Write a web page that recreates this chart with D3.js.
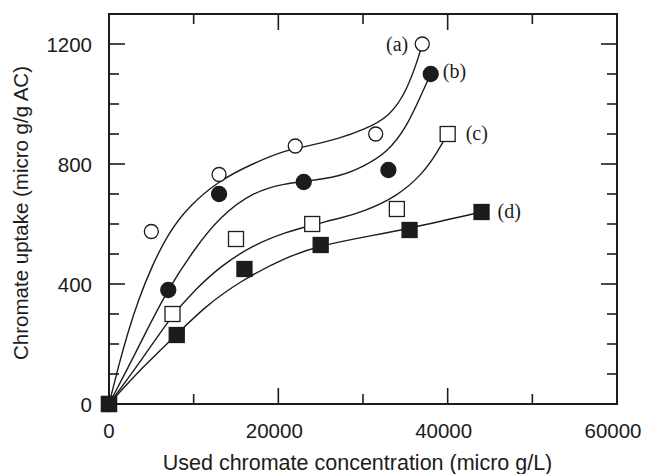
<!DOCTYPE html>
<html>
<head>
<meta charset="utf-8">
<script src="https://cdn.jsdelivr.net/npm/d3@7"></script>
<style>
  html, body { margin: 0; padding: 0; background: #fff; }
  svg { display: block; }
</style>
</head>
<body>
<div id="chart"></div>
<script>
// measured points
var labels = ["(a)", "(b)", "(c)", "(d)"];
var xA = [0, 5000, 13000, 22000, 31500, 37000];
var yA = [0, 575, 765, 860, 900, 1200];
var xB = [0, 7000, 13000, 23000, 33000, 38000];
var yB = [0, 380, 700, 740, 780, 1100];
var xC = [0, 7500, 15000, 24000, 34000, 40000];
var yC = [0, 300, 550, 600, 650, 900];
var xD = [0, 8000, 16000, 25000, 35500, 44000];
var yD = [0, 230, 450, 530, 580, 640];

// fitted curves
var fitA = [[0,0],[1100,124],[2200,236],[3460,347],[5040,458],[7000,569],[9370,658],[13000,745],[17000,802],[21000,847],[23000,856],[27300,886],[30000,913],[33200,958],[35200,1047],[36500,1150],[37000,1200]];
var fitB = [[0,0],[2300,124],[4050,222],[7000,385],[10150,519],[13100,624],[17000,708],[21000,736],[23000,741],[27300,758],[30000,791],[32800,836],[35200,924],[37100,1045],[38000,1100]];
var fitC = [[0,0],[3300,124],[7400,295],[10150,380],[13100,458],[17000,530],[21000,574],[24000,597],[27300,619],[30000,641],[34000,691],[37100,769],[38700,836],[40000,900]];
var fitD = [[0,0],[4000,124],[8000,232],[11300,324],[15500,410],[21000,491],[25000,528],[30000,556],[35500,585],[44000,640]];

var xMajor = [0, 20000, 40000, 60000];
var yMajor = [0, 400, 800, 1200];

var W = 645, H = 474;
var pL = 109, pR = 617, pT = 14, pB = 404;

var svg = d3.select("#chart").append("svg")
    .attr("width", W).attr("height", H);

var x = d3.scaleLinear().domain([0, 60000]).range([pL, pR]);
var y = d3.scaleLinear().domain([0, 1300]).range([pB, pT]);

var ink = "#1c1c1c";

// ticks (inward, all four sides)
var xMinor = d3.range(0, 60001, 10000);
var yMinor = d3.range(0, 1301, 100);

function isMajor(arr, v) { return arr.indexOf(v) >= 0; }

var tk = svg.append("g").attr("stroke", ink).attr("stroke-width", 1.6);
xMinor.forEach(function (v) {
  var len = isMajor(xMajor, v) ? 16 : 10;
  tk.append("line").attr("x1", x(v)).attr("x2", x(v)).attr("y1", pB).attr("y2", pB - len);
  tk.append("line").attr("x1", x(v)).attr("x2", x(v)).attr("y1", pT).attr("y2", pT + len);
});
yMinor.forEach(function (v) {
  var len = isMajor(yMajor, v) ? 16 : 10;
  tk.append("line").attr("x1", pL).attr("x2", pL + len).attr("y1", y(v)).attr("y2", y(v));
  tk.append("line").attr("x1", pR).attr("x2", pR - len).attr("y1", y(v)).attr("y2", y(v));
});

// frame
svg.append("rect")
  .attr("x", pL).attr("y", pT)
  .attr("width", pR - pL).attr("height", pB - pT)
  .attr("fill", "none").attr("stroke", ink).attr("stroke-width", 2);

// tick labels
var sans = "'Liberation Sans', Arial, Helvetica, sans-serif";
svg.append("g").selectAll("text").data(xMajor).enter().append("text")
  .attr("x", function (d) { return x(d) - (d === 0 ? 0 : 4); })
  .attr("y", 438)
  .attr("text-anchor", "middle")
  .style("font-family", sans).style("font-size", "20.5px").attr("fill", ink)
  .text(function (d) { return d; });

svg.append("g").selectAll("text").data(yMajor).enter().append("text")
  .attr("x", 92)
  .attr("y", function (d) { return y(d) + 8; })
  .attr("text-anchor", "end")
  .style("font-family", sans).style("font-size", "20.5px").attr("fill", ink)
  .text(function (d) { return d; });

// axis titles
svg.append("text")
  .attr("x", (160 + 555) / 2).attr("y", 470)
  .attr("text-anchor", "middle")
  .style("font-family", sans).style("font-size", "21.5px").attr("fill", ink)
  .text("Used chromate concentration (micro g/L)");

svg.append("text")
  .attr("transform", "translate(28," + 213 + ") rotate(-90)")
  .attr("text-anchor", "middle")
  .style("font-family", sans).style("font-size", "20.5px").attr("fill", ink)
  .text("Chromate uptake (micro g/g AC)");

// fitted curves
var line = d3.line()
  .x(function (d) { return x(d[0]); })
  .y(function (d) { return y(d[1]); })
  .curve(d3.curveBasis);

svg.append("g").selectAll("path").data([fitA, fitB, fitC, fitD]).enter().append("path")
  .attr("d", line)
  .attr("fill", "none").attr("stroke", ink).attr("stroke-width", 1.4);

// markers
var series = [
  { xs: xA, ys: yA, shape: "circle", filled: false, lab: labels[0], dx: -14, dy: 7, anchor: "end" },
  { xs: xB, ys: yB, shape: "circle", filled: true, lab: labels[1], dx: 12, dy: 4, anchor: "start" },
  { xs: xC, ys: yC, shape: "square", filled: false, lab: labels[2], dx: 18, dy: 6, anchor: "start" },
  { xs: xD, ys: yD, shape: "square", filled: true, lab: labels[3], dx: 16, dy: 6, anchor: "start" }
];

series.forEach(function (s) {
  var pts = s.xs.map(function (v, i) { return [v, s.ys[i]]; });
  var g = svg.append("g");
  if (s.shape === "circle") {
    g.selectAll("circle").data(pts).enter().append("circle")
      .attr("cx", function (d) { return x(d[0]); })
      .attr("cy", function (d) { return y(d[1]); })
      .attr("r", s.filled ? 7.5 : 7)
      .attr("fill", s.filled ? ink : "#fff")
      .attr("stroke", ink).attr("stroke-width", 1.3);
  } else {
    var half = 7.5;
    g.selectAll("rect").data(pts).enter().append("rect")
      .attr("x", function (d) { return x(d[0]) - half; })
      .attr("y", function (d) { return y(d[1]) - half; })
      .attr("width", half * 2).attr("height", half * 2)
      .attr("fill", s.filled ? ink : "#fff")
      .attr("stroke", ink).attr("stroke-width", 1.3);
  }
  var last = pts[pts.length - 1];
  svg.append("text")
    .attr("x", x(last[0]) + s.dx)
    .attr("y", y(last[1]) + s.dy)
    .attr("text-anchor", s.anchor)
    .style("font-family", "'Liberation Serif', 'Times New Roman', serif")
    .style("font-size", "20px").attr("fill", ink)
    .text(s.lab);
});
</script>
</body>
</html>
